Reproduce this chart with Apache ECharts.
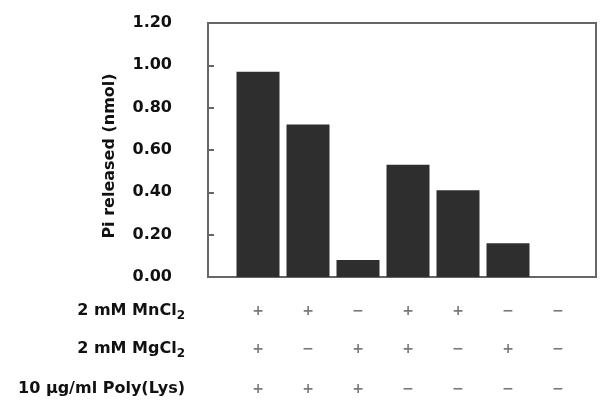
<!DOCTYPE html>
<html>
<head>
<meta charset="utf-8">
<script src="https://cdn.jsdelivr.net/npm/echarts@6/dist/echarts.min.js"></script>
<style>
html,body{margin:0;padding:0;background:#fff;}
#c{width:615px;height:403px;}
</style>
</head>
<body>
<div id="c"></div>
<script>
// Data
var positions = [1, 2, 3, 4, 5, 6, 7];
var piReleased = [0.97, 0.72, 0.08, 0.53, 0.41, 0.16, 0];
var mnCl2 = ['+', '+', '−', '+', '+', '−', '−'];
var mgCl2 = ['+', '−', '+', '+', '−', '+', '−'];
var polyLys = ['+', '+', '+', '−', '−', '−', '−'];
var rowNames = ['2 mM MnCl{s|2}', '2 mM MgCl{s|2}', '10 µg/ml Poly(Lys)'];
var yTicks = [0, 0.2, 0.4, 0.6, 0.8, 1.0, 1.2];
var yTitle = 'Pi released (nmol)';

var FONT = 'DejaVu Sans, sans-serif';
var XMIN = 0, XMAX = 7.76;

function symAxis(symbols, name, offset) {
  return {
    type: 'value', gridIndex: 0, position: 'bottom', offset: offset,
    min: XMIN, max: XMAX, interval: 1,
    axisLine: {show: false}, axisTick: {show: false}, splitLine: {show: false},
    axisLabel: {
      margin: 0, verticalAlign: 'middle', color: '#7a7a7a', fontSize: 14, fontWeight: 'bold', fontFamily: FONT,
      showMinLabel: true, showMaxLabel: true,
      formatter: function (v) {
        var i = Math.round(v);
        if (Math.abs(v - i) > 1e-6 || i < 1 || i > symbols.length) return '';
        return symbols[i - 1];
      }
    },
    name: name, nameLocation: 'start', nameGap: 23,
    nameTextStyle: {
      fontSize: 16, fontWeight: 'bold', color: '#111', fontFamily: FONT,
      align: 'right', verticalAlign: 'middle',
      rich: {s: {fontSize: 12, fontWeight: 'bold', color: '#111', fontFamily: FONT, verticalAlign: 'bottom', padding: [9, 0, 0, 0]}}
    }
  };
}

var chart = echarts.init(document.getElementById('c'), null, {renderer: 'canvas'});
chart.setOption({
  backgroundColor: '#fff',
  animation: false,
  grid: {left: 208, right: 19, top: 23, bottom: 126, show: true, borderColor: '#666', borderWidth: 2, backgroundColor: 'transparent'},
  xAxis: [
    {type: 'value', min: XMIN, max: XMAX, interval: 1,
     axisLine: {show: false}, axisTick: {show: false}, axisLabel: {show: false}, splitLine: {show: false}},
    symAxis(mnCl2, rowNames[0], 34),
    symAxis(mgCl2, rowNames[1], 72),
    symAxis(polyLys, rowNames[2], 112)
  ],
  yAxis: {
    type: 'value', min: yTicks[0], max: yTicks[yTicks.length - 1], interval: 0.2,
    axisLine: {show: true, lineStyle: {color: '#666', width: 2}},
    axisTick: {show: true, inside: true, length: 6, lineStyle: {color: '#666', width: 2}},
    splitLine: {show: false},
    axisLabel: {margin: 36, fontSize: 16, fontWeight: 'bold', color: '#111', fontFamily: FONT,
      formatter: function (v) { return v.toFixed(2); }},
    name: yTitle, nameLocation: 'middle', nameRotate: 90, nameGap: 90,
    nameTextStyle: {fontSize: 16, fontWeight: 'bold', color: '#111', fontFamily: FONT, padding: [0, 12, 0, 0]}
  },
  series: [{
    type: 'bar', xAxisIndex: 0, yAxisIndex: 0, barWidth: 43,
    itemStyle: {color: '#2e2e2e'},
    data: positions.map(function (p, i) { return [p, piReleased[i]]; })
  }]
});
</script>
</body>
</html>
